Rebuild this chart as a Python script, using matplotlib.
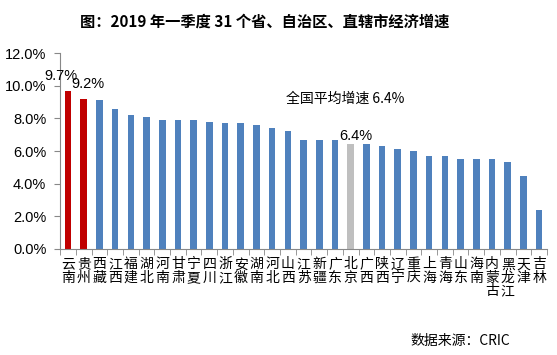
import numpy as np
import matplotlib
matplotlib.use("Agg")
from matplotlib import pyplot as plt
from matplotlib.ticker import FixedLocator, PercentFormatter

plt.rcParams['font.family'] = ['Liberation Sans', 'Noto Sans CJK SC', 'DejaVu Sans']

provinces = ["云南", "贵州", "西藏", "江西", "福建", "湖北", "河南", "甘肃", "宁夏", "四川",
             "浙江", "安徽", "湖南", "河北", "山西", "江苏", "新疆", "广东", "北京", "广西",
             "陕西", "辽宁", "重庆", "上海", "青海", "山东", "海南", "内蒙古", "黑龙江", "天津", "吉林"]
growth = [9.7, 9.2, 9.1, 8.6, 8.2, 8.1, 7.9, 7.9, 7.9, 7.8,
          7.7, 7.7, 7.6, 7.4, 7.2, 6.7, 6.7, 6.7, 6.4, 6.4,
          6.3, 6.1, 6.0, 5.7, 5.7, 5.5, 5.5, 5.5, 5.3, 4.5, 2.4]
highlight_red = ["云南", "贵州"]
highlight_grey = ["北京"]
national_avg = 6.4

colors = []
for p in provinces:
    if p in highlight_red:
        colors.append("#C00000")
    elif p in highlight_grey:
        colors.append("#BFBFBF")
    else:
        colors.append("#4F81BD")

fig = plt.figure(figsize=(5.57, 3.55), dpi=100)
ax = fig.add_axes([0.108, 0.2986, 0.874, 0.552])

x = np.arange(len(provinces))
ax.bar(x, growth, width=0.42, color=colors)

ax.set_xlim(-0.5, len(provinces) - 0.5)
ax.set_ylim(0, 12)
ax.set_yticks(np.arange(0, 12.1, 2))
ax.yaxis.set_major_formatter(PercentFormatter(decimals=1))
ax.tick_params(axis='y', labelsize=10.5, length=4, color="#888888", pad=6)

# category labels, one character per line
ax.set_xticks(x)
ax.set_xticklabels(["\n".join(p) for p in provinces], fontsize=10,
                   family=['Noto Sans CJK SC'], linespacing=0.95, va="top")
ax.tick_params(axis='x', length=0, pad=6)
ax.xaxis.set_minor_locator(FixedLocator(np.arange(-0.5, len(provinces), 1)))
ax.tick_params(axis='x', which='minor', length=4, color="#888888")

for s in ["top", "right"]:
    ax.spines[s].set_visible(False)
ax.spines["left"].set_color("#888888")
ax.spines["bottom"].set_color("#888888")

# value labels
ax.text(0 - 0.45, growth[0] + 0.45, "9.7%", fontsize=10.5, ha="center", va="bottom")
ax.text(1 + 0.3, growth[1] + 0.45, "9.2%", fontsize=10.5, ha="center", va="bottom")
i_bj = provinces.index("北京")
ax.text(i_bj + 0.3, growth[i_bj] + 0.1, "6.4%", fontsize=10.5, ha="center", va="bottom")
ax.text(i_bj - 0.35, 9.2, "全国平均增速 " + f"{national_avg}%", fontsize=10, ha="center",
        va="center", family=['Noto Sans CJK SC', 'Liberation Sans'])

fig.text(0.476, 0.938, "图：2019 年一季度 31 个省、自治区、直辖市经济增速", fontsize=11,
         fontweight="bold", ha="center", va="center", family=['Noto Sans CJK SC'])
fig.text(0.915, 0.04, "数据来源：CRIC", fontsize=10, ha="right", va="center",
         family=['Noto Sans CJK SC'])

fig.savefig("out.png", dpi=100)
